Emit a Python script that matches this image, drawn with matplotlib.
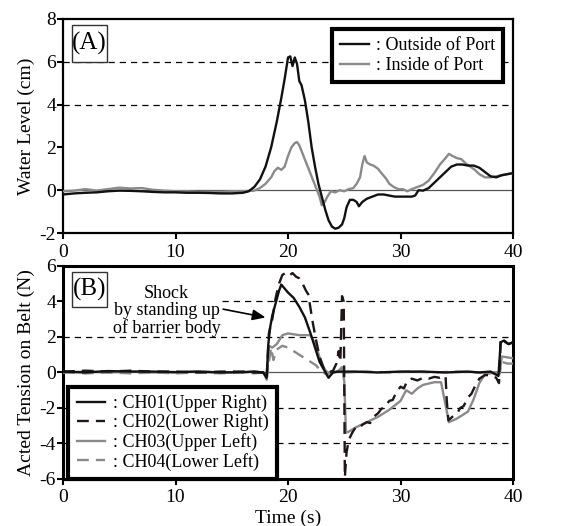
import matplotlib
matplotlib.use("Agg")
import matplotlib.pyplot as plt
from matplotlib.patches import Rectangle

# ---------------------------
# Data
# ---------------------------
# (A) water level (cm)
t_out = [0, 1, 2, 3, 4, 5, 6, 7, 8, 9, 10, 11, 12, 13, 14, 15, 16, 16.5, 17, 17.5,
         18, 18.5, 19, 19.4, 19.7, 20.0, 20.2, 20.4, 20.6, 20.8, 21.0, 21.2, 21.5, 21.8,
         22.1, 22.4, 22.7, 23.0, 23.3, 23.6, 23.9, 24.2, 24.5, 24.8, 25.0, 25.2, 25.5,
         25.8, 26.1, 26.3, 26.6, 27.0, 27.5, 28.0, 28.5, 29.0, 29.5, 30.0, 30.5, 31.0,
         31.3, 31.6, 32.0, 32.5, 33.0, 33.5, 34.0, 34.5, 35.0, 35.5, 36.0, 36.5, 37.0,
         37.5, 38.0, 38.5, 39.0, 39.5, 40.0]
outside = [-0.2, -0.15, -0.12, -0.1, -0.05, -0.02, -0.03, -0.05, -0.08, -0.1, -0.1, -0.12,
           -0.12, -0.13, -0.15, -0.15, -0.12, -0.05, 0.15, 0.5, 1.1, 2.0, 3.2, 4.3, 5.2,
           6.2, 6.25, 5.8, 6.2, 5.9, 5.1, 4.9, 4.2, 3.2, 2.0, 1.1, 0.3, -0.3, -0.9, -1.4,
           -1.7, -1.8, -1.75, -1.6, -1.3, -0.8, -0.45, -0.45, -0.55, -0.75, -0.55, -0.4,
           -0.3, -0.2, -0.2, -0.25, -0.3, -0.3, -0.3, -0.3, -0.25, 0.0, -0.02, 0.1, 0.35,
           0.6, 0.85, 1.1, 1.2, 1.2, 1.15, 1.15, 1.05, 0.85, 0.65, 0.6, 0.7, 0.75, 0.8]

t_in = [0, 1, 2, 3, 4, 5, 6, 7, 8, 9, 10, 11, 12, 13, 14, 15, 16, 17, 17.5, 18, 18.5,
        18.8, 19.1, 19.4, 19.7, 20.0, 20.3, 20.6, 20.8, 21.0, 21.3, 21.6, 21.9, 22.2,
        22.5, 22.8, 23.0, 23.2, 23.5, 23.8, 24.2, 24.6, 25.0, 25.4, 25.8, 26.1, 26.4,
        26.6, 26.8, 27.0, 27.3, 27.6, 28.0, 28.3, 28.7, 29.0, 29.4, 29.8, 30.2, 30.6,
        31.0, 31.5, 32.0, 32.5, 33.0, 33.5, 34.0, 34.3, 34.6, 35.0, 35.4, 35.8, 36.2,
        36.6, 37.0, 37.5, 38.0, 38.5, 39.0, 39.5, 40.0]
inside = [-0.05, -0.02, 0.05, -0.02, 0.05, 0.12, 0.08, 0.1, 0.02, -0.02, -0.05, -0.05,
          -0.08, -0.08, -0.08, -0.05, -0.05, -0.02, 0.1, 0.3, 0.6, 0.9, 1.05, 0.95, 1.1,
          1.6, 2.0, 2.2, 2.25, 2.1, 1.7, 1.3, 0.9, 0.5, 0.1, -0.3, -0.7, -0.6, -0.3,
          -0.05, -0.1, 0.0, -0.05, 0.05, 0.1, 0.3, 0.6, 1.2, 1.6, 1.3, 1.2, 1.15, 1.0,
          0.8, 0.55, 0.3, 0.15, 0.05, 0.05, -0.05, 0.05, 0.15, 0.25, 0.45, 0.8, 1.2, 1.5,
          1.7, 1.6, 1.5, 1.45, 1.25, 1.1, 0.95, 0.75, 0.6, 0.6, 0.65, 0.7, 0.75, 0.8]

# (B) tension on belt (N)
t_ch01 = [0, 2, 4, 6, 8, 10, 12, 14, 16, 17, 17.8, 18.1, 18.25, 18.4, 18.6, 18.9, 19.2,
          19.4, 19.6, 20.0, 20.5, 21.0, 21.5, 22.0, 22.4, 22.8, 23.2, 23.6, 24.0, 24.5,
          25, 26, 28, 30, 32, 34, 36, 37, 38, 38.7, 38.9, 39.2, 39.6, 40]
ch01 = [0.05, 0.0, 0.08, 0.05, 0.05, 0.02, 0.05, 0.0, 0.02, 0.05, 0.0, -0.3, 1.6, 2.5,
        3.2, 3.9, 4.6, 4.95, 4.8, 4.5, 4.2, 3.7, 3.1, 2.2, 1.4, 0.6, 0.15, -0.3, 0.0,
        0.05, 0.05, 0.05, 0.0, 0.05, 0.05, 0.0, 0.05, 0.0, 0.05, -0.2, 1.7, 1.8, 1.6, 1.7]

t_ch02 = [0, 2, 4, 6, 8, 10, 12, 14, 16, 17, 17.8, 18.1, 18.3, 18.6, 18.9, 19.2, 19.5,
          19.8, 20.1, 20.4, 20.7, 21.0, 21.3, 21.6, 21.8, 22.0, 22.2, 22.5, 22.8, 23.2,
          23.6, 24.0, 24.3, 24.5, 24.65, 24.8, 24.95, 25.05, 25.2, 25.4, 25.7, 26.0,
          26.3, 26.6, 27.0, 27.3, 27.6, 28.0, 28.3, 28.6, 29.0, 29.3, 29.6, 30.0, 30.3,
          30.6, 31.0, 31.5, 32.0, 32.5, 33.0, 33.5, 34.0, 34.1, 34.25, 34.6, 35.0, 35.3,
          35.6, 36.0, 36.3, 36.6, 37.0, 37.5, 38.0, 38.5, 38.75, 38.9, 39.2, 39.6, 40]
ch02 = [0.05, 0.1, 0.05, 0.1, 0.05, 0.05, 0.0, 0.05, 0.05, 0.0, 0.0, -0.3, 2.2, 3.0,
        4.2, 5.0, 5.5, 5.6, 5.45, 5.6, 5.4, 5.3, 5.0, 4.6, 4.4, 3.6, 2.8, 1.8, 0.9, 0.2,
        0.0, 0.1, 0.5, 1.2, 0.6, 4.3, 4.0, -5.9, -4.5, -3.8, -3.4, -3.1, -3.15, -2.95,
        -2.8, -2.85, -2.5, -2.3, -2.05, -1.95, -1.6, -1.55, -1.15, -0.8, -0.9, -0.45,
        -0.35, -0.45, -0.3, -0.35, -0.25, -0.3, -0.2, -1.5, -2.7, -2.5, -2.35, -2.0, -1.9,
        -1.4, -1.2, -0.8, -0.35, -0.15, -0.15, -0.3, -0.6, 1.9, 1.75, 1.6, 1.7]

t_ch03 = [0, 2, 4, 6, 8, 10, 12, 14, 16, 17, 17.8, 18.1, 18.3, 18.6, 19.0, 19.5, 20.0,
          21.0, 22.0, 22.5, 23.0, 23.5, 24.0, 24.5, 24.8, 25.0, 25.15, 25.5, 26.0, 27.0,
          28.0, 29.0, 30.0, 30.5, 31.0, 31.5, 32.0, 33.0, 33.6, 34.3, 35.0, 36.0, 36.5,
          37.0, 37.5, 38.5, 38.8, 39.0, 39.5, 40]
ch03 = [0.0, 0.05, 0.0, 0.05, 0.0, 0.0, 0.05, 0.0, 0.0, 0.05, 0.0, -0.4, 1.5, 1.4, 1.6,
        2.1, 2.2, 2.1, 2.1, 1.5, 0.4, 0.0, 0.0, 0.1, 0.3, -0.5, -3.4, -3.3, -3.1, -2.8,
        -2.5, -2.1, -1.6, -1.0, -1.2, -0.9, -0.7, -0.55, -0.55, -2.8, -2.6, -2.2, -1.5,
        -0.6, -0.1, 0.0, -0.1, 0.9, 0.85, 0.8]

t_ch04 = [0, 2, 4, 6, 8, 10, 12, 14, 16, 17, 17.8, 18.1, 18.3, 18.5, 18.7, 19.0, 19.5,
          20.0, 20.5, 21.0, 21.5, 22.0, 22.5, 23.0, 23.5, 24.0, 25.0, 27, 29, 31, 33, 35,
          37, 38.8, 39.0, 39.5, 40]
ch04 = [0.0, -0.05, 0.0, -0.05, 0.0, -0.05, 0.0, -0.05, 0.0, -0.05, 0.0, -0.4, 0.6, 1.4,
        0.7, 1.3, 1.5, 1.4, 1.2, 1.0, 0.8, 0.6, 0.4, 0.0, -0.1, 0.05, 0.0, 0.05, 0.0,
        0.05, 0.0, 0.05, 0.0, 0.0, 0.6, 0.5, 0.5]

x_ticks = [0, 10, 20, 30, 40]
grid_a = [4, 6]
grid_b = [2, -2, -4]

# ---------------------------
# Style
# ---------------------------
plt.rcParams["font.family"] = ["Liberation Serif", "DejaVu Serif"]
plt.rcParams["font.size"] = 14
plt.rcParams["axes.unicode_minus"] = False

BLACK = "#111111"
GRAY = "#8a8a8a"

fig = plt.figure(figsize=(5.69, 5.26), dpi=100)
ax1 = fig.add_axes([0.1107, 0.557, 0.791, 0.407])
ax2 = fig.add_axes([0.1107, 0.0894, 0.791, 0.405])


def style_axes(ax, ylim, yticks, spine_lw, xpad):
    ax.set_xlim(0, 40)
    ax.set_ylim(*ylim)
    ax.set_xticks(x_ticks)
    ax.set_yticks(yticks)
    for s in ax.spines.values():
        s.set_linewidth(spine_lw)
    ax.tick_params(direction="out", length=4, width=1.5, pad=1, labelsize=14)
    ax.tick_params(axis="x", pad=xpad)
    ax.axhline(0, color="#555555", lw=0.9, zorder=1)


def panel_tag(ax, txt, y0, y1):
    ax.add_patch(Rectangle((0.02, y0), 0.078, y1 - y0, transform=ax.transAxes,
                           fc="white", ec="#333333", lw=1, zorder=11))
    ax.text(0.059, (y0 + y1) / 2, txt, transform=ax.transAxes, fontsize=18,
            ha="center", va="center", zorder=12)


# ---------------------------
# (A) Water level
# ---------------------------
style_axes(ax1, (-2, 8), [-2, 0, 2, 4, 6, 8], 1.6, 4)
for g in grid_a:
    ax1.axhline(g, color="black", lw=0.9, ls=(0, (5, 4)), zorder=1)
ax1.plot(t_in, inside, color=GRAY, lw=1.7, label=": Inside of Port", zorder=3)
ax1.plot(t_out, outside, color=BLACK, lw=1.7, label=": Outside of Port", zorder=4)
h, l = ax1.get_legend_handles_labels()
leg1 = ax1.legend(h[::-1], l[::-1], loc="upper right", bbox_to_anchor=(0.998, 0.995),
                  fancybox=False, edgecolor="black", framealpha=1, handlelength=1.6,
                  handletextpad=0.4, borderpad=0.45, labelspacing=0.15, fontsize=13)
leg1.get_frame().set_linewidth(3)
leg1.set_zorder(10)
panel_tag(ax1, "(A)", 0.799, 0.972)
ax1.set_ylabel("Water Level (cm)", fontsize=14, labelpad=3)

# ---------------------------
# (B) Tension on belt
# ---------------------------
style_axes(ax2, (-6, 6), [-6, -4, -2, 0, 2, 4, 6], 2.2, 3)
for g in grid_b:
    ax2.axhline(g, color="black", lw=0.9, ls=(0, (5, 4)), zorder=1)
ax2.hlines(4, 14.1, 40, color="black", lw=0.9, ls=(0, (5, 4)), zorder=1)
ax2.plot(t_ch04, ch04, color=GRAY, lw=1.7, ls=(0, (5, 3)), label=": CH04(Lower Left)", zorder=3)
ax2.plot(t_ch03, ch03, color=GRAY, lw=1.7, label=": CH03(Upper Left)", zorder=3)
ax2.plot(t_ch02, ch02, color="#221515", lw=1.7, ls=(0, (5, 3)), label=": CH02(Lower Right)", zorder=4)
ax2.plot(t_ch01, ch01, color=BLACK, lw=1.7, label=": CH01(Upper Right)", zorder=4)
h, l = ax2.get_legend_handles_labels()
leg2 = ax2.legend(h[::-1], l[::-1], loc="lower left", bbox_to_anchor=(0.012, 0.0),
                  fancybox=False, edgecolor="black", framealpha=1, handlelength=1.6,
                  handletextpad=0.4, borderpad=0.45, labelspacing=0.1, fontsize=13,
                  borderaxespad=0)
leg2.get_frame().set_linewidth(3)
leg2.set_zorder(10)
panel_tag(ax2, "(B)", 0.808, 0.972)
ax2.annotate("Shock\nby standing up\nof barrier body", xy=(18.0, 3.1), xytext=(9.2, 3.45),
             ha="center", va="center", fontsize=13, linespacing=1.0,
             arrowprops=dict(arrowstyle="-|>,head_length=0.6,head_width=0.25",
                             color="black", lw=1.2, shrinkA=0, shrinkB=0,
                             relpos=(1.0, 0.55)), zorder=12)
ax2.set_ylabel("Acted Tension on Belt (N)", fontsize=14, labelpad=3)
ax2.set_xlabel("Time (s)", fontsize=14, labelpad=3)

fig.savefig("out.png", dpi=100)
